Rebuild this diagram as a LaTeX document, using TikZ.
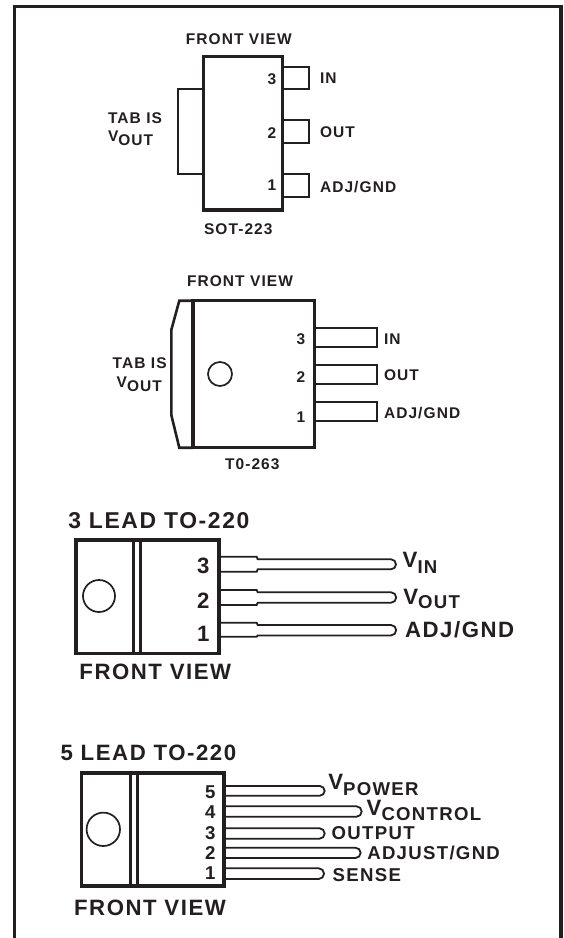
\documentclass[tikz,border=0pt]{standalone}
\usepackage{fontspec}
\setmainfont[LetterSpace=7]{Liberation Sans}
\definecolor{ink}{HTML}{231F20}
\newcommand{\szA}{\fontsize{15.5pt}{17pt}\selectfont\bfseries}
\newcommand{\szB}{\fontsize{18.6pt}{20pt}\selectfont\bfseries}
\newcommand{\szC}{\fontsize{22.2pt}{24pt}\selectfont\bfseries}
\newcommand{\szD}{\fontsize{22.9pt}{25pt}\selectfont\bfseries}
\newcommand{\subtxt}[3]{\raisebox{-#1pt}{#2#3}}
\newcommand{\widelead}[7]{\draw[leadline] (#1,#2) -- (#3,#2) -- (#3+1,#4) -- (#6,#4) arc[start angle=-90,end angle=90,radius=#7] -- (#3+1,#4+#7*2) -- (#3,#5) -- (#1,#5);}
\newcommand{\pinlead}[5]{\draw[leadline] (#1,#2) -- (#4,#2) arc[start angle=-90,end angle=90,radius=#5] -- (#1,#3);}
\begin{document}
\begin{tikzpicture}[x=1pt,y=-1pt,line join=miter,
  bodyline/.style={line width=3.2pt,draw=ink},
  leadline/.style={line width=1.8pt,draw=ink},
  hole/.style={line width=1.7pt,draw=ink},
  small/.style={font=\szA,text=ink,inner sep=0pt,outer sep=0pt},
  middle/.style={font=\szB,text=ink,inner sep=0pt,outer sep=0pt},
  big/.style={font=\szC,text=ink,inner sep=0pt,outer sep=0pt}]
\useasboundingbox (0,0) rectangle (564,938);
\fill[white] (0,0) rectangle (564,938);
\draw[line width=3.2pt,draw=ink] (14.4,938) -- (14.4,6.6) -- (561,6.6) -- (561,938);

% SOT-223
\node[small] (afv) at (238.8,39) {FRONT VIEW};
\node[small,anchor=west] (atab) at (108,118) {TAB IS};
\node[small,anchor=base west] (avout) at (108,141.2) {V\subtxt{4}{}{OUT}};
\draw[leadline] (203,89) -- (178.3,89) -- (178.3,174) -- (203,174);
\draw[leadline] (284,66.7) -- (309,66.7) -- (309,89.3) -- (284,89.3);
\draw[leadline] (284,120.3) -- (309,120.3) -- (309,142.7) -- (284,142.7);
\draw[leadline] (284,174.3) -- (309,174.3) -- (309,196.7) -- (284,196.7);
\draw[bodyline] (203.3,56.7) rectangle (282.7,210);
\node[small] (ap3) at (272,79.5) {3};
\node[small] (ap2) at (272,132.7) {2};
\node[small] (ap1) at (272,185.3) {1};
\node[small,anchor=west] (ain) at (320,78.3) {IN};
\node[small,anchor=west] (aout) at (320,132.3) {OUT};
\node[small,anchor=west] (aadj) at (320,187.3) {ADJ/GND};
\node[small] (asot) at (238.3,229) {SOT-223};

% TO-263
\node[small] (bfv) at (240,280.7) {FRONT VIEW};
\node[small,anchor=west] (btab) at (112.7,363.3) {TAB IS};
\node[small,anchor=base west] (bvout) at (116.7,387) {V\subtxt{4}{}{OUT}};
\draw[leadline] (315,327.7) -- (377.3,327.7) -- (377.3,346.7) -- (315,346.7);
\draw[leadline] (315,365) -- (377.3,365) -- (377.3,384) -- (315,384);
\draw[leadline] (315,402) -- (377.3,402) -- (377.3,421) -- (315,421);
\draw[bodyline] (192.7,300.7) -- (314.3,300.7) -- (314.3,447.7) -- (192.7,447.7);
\draw[line width=2.6pt,draw=ink] (192.7,300.7) -- (179.3,300.7) -- (171.3,330) -- (171.3,415) -- (179.3,447.7) -- (192.7,447.7);
\draw[line width=4pt,draw=ink] (192.7,299) -- (192.7,449.3);
\draw[hole] (220,374) circle (12);
\node[small] (bp3) at (301,338.7) {3};
\node[small] (bp2) at (301,377.3) {2};
\node[small] (bp1) at (301,416.7) {1};
\node[small,anchor=west] (bin) at (384,338.7) {IN};
\node[small,anchor=west] (bout) at (384,375) {OUT};
\node[small,anchor=west] (badj) at (384,413.3) {ADJ/GND};
\node[small] (bto) at (252.3,464) {T0-263};

% 3 lead TO-220
\node[big,font=\szD,anchor=west] (chead) at (68.3,520.7) {3 LEAD TO-220};
\widelead{219}{556.7}{256.7}{559.3}{571.7}{391}{5}
\widelead{219}{590}{256.7}{592.3}{605}{391}{5.2}
\widelead{219}{622.7}{256.7}{625}{636.7}{391}{5.2}
\draw[bodyline] (76,540) rectangle (219,653.3);
\draw[line width=3pt,draw=ink] (133.4,540) -- (133.4,653.3) (140.2,540) -- (140.2,653.3);
\draw[hole] (99,596) circle (16);
\node[big] (cp3) at (203.3,566) {3};
\node[big] (cp2) at (203.3,600.7) {2};
\node[big] (cp1) at (203.3,634.3) {1};
\node[big,anchor=base west] (cvin) at (402.7,567.3) {V\subtxt{6}{\szB}{IN}};
\node[big,anchor=base west] (cvout) at (403.3,604) {V\subtxt{4.5}{\szB}{OUT}};
\node[big,anchor=west] (cadj) at (405,629.3) {ADJ/GND};
\node[big] (cfv) at (155.3,671.7) {FRONT VIEW};

% 5 lead TO-220
\node[big,anchor=west] (dhead) at (60.7,753.3) {5 LEAD TO-220};
\pinlead{224}{786}{795.7}{319.8}{4.85}
\pinlead{224}{806.3}{816.7}{356.5}{5.2}
\pinlead{224}{828.3}{838.7}{319.5}{5.2}
\pinlead{224}{847.7}{858}{355.5}{5.15}
\pinlead{224}{868.3}{879}{318.7}{5.35}
\draw[bodyline] (81.7,773) rectangle (224,886);
\draw[line width=3pt,draw=ink] (130.7,773) -- (130.7,886) (137.3,773) -- (137.3,886);
\draw[hole] (103.3,829.3) circle (16.7);
\node[middle] (dp5) at (210.3,792.3) {5};
\node[middle] (dp4) at (210.3,812.3) {4};
\node[middle] (dp3) at (210.3,832.7) {3};
\node[middle] (dp2) at (210.3,852.7) {2};
\node[middle] (dp1) at (210.3,872.7) {1};
\node[big,anchor=base west] (dvp) at (328.3,789.3) {V\subtxt{6.5}{\szB}{POWER}};
\node[big,anchor=base west] (dvc) at (366.7,815.5) {V\subtxt{4.5}{\szB}{CONTROL}};
\node[middle,anchor=west] (dout) at (331.7,833.3) {OUTPUT};
\node[middle,anchor=west] (dadj) at (367.3,853.3) {ADJUST/GND};
\node[middle,anchor=west] (dsen) at (332.7,875) {SENSE};
\node[big] (dfv) at (150,907.7) {FRONT VIEW};
\end{tikzpicture}
\end{document}
